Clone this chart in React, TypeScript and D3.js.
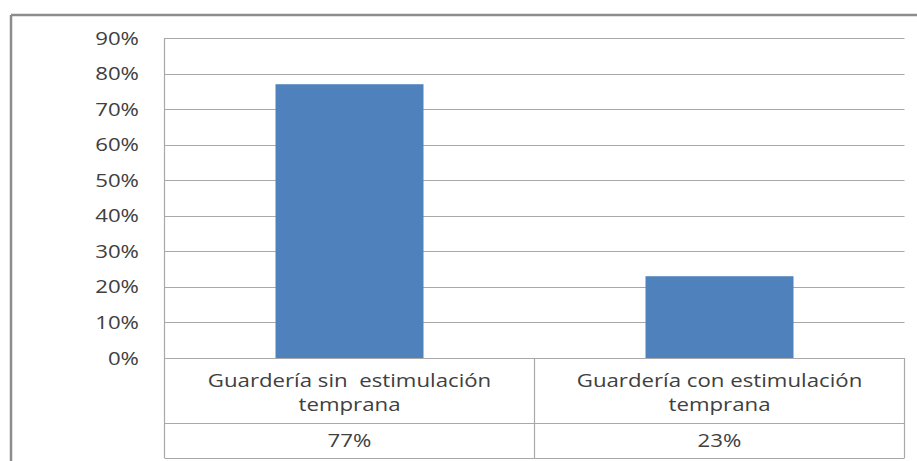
import React from "react";
import * as d3 from "d3";

const categories = ["Guardería sin  estimulación|temprana", "Guardería con estimulación|temprana"];
const values = [0.77, 0.23];
const valueLabels = ["77%", "23%"];
const yTicks = [0, 0.1, 0.2, 0.3, 0.4, 0.5, 0.6, 0.7, 0.8, 0.9];

const W = 917;
const H = 461;
const plotLeft = 164.5;
const plotRight = 904.5;
const plotTop = 38;
const plotBottom = 358;
const row1Bottom = 423;
const row2Bottom = 458;
const FONT = "'Open Sans', 'Liberation Sans', sans-serif";
const TEXT = "#404040";
const GRID = "#a8a8a8";
const SX = 1.235;

export default function App() {
  const x = d3.scaleBand<string>().domain(categories).range([plotLeft, plotRight]).padding(0);
  const y = d3.scaleLinear().domain([0, 0.9]).range([plotBottom, plotTop]);
  const barW = x.bandwidth() * 0.4;
  const fmt = d3.format(".0%");

  const sText = (tx: number, ty: number, anchor: string, content: string, key?: any) => (
    <text
      key={key}
      transform={`translate(${tx},${ty}) scale(${SX},1)`}
      textAnchor={anchor}
      fontFamily={FONT}
      fontSize={18}
      fill={TEXT}
      style={{ whiteSpace: "pre" }}
    >
      {content}
    </text>
  );

  return (
    <svg
      width={W}
      height={H}
      style={{ position: "absolute", left: 0, top: 0, background: "#fff" }}
    >
      {/* outer chart border */}
      <line x1={11} x2={W} y1={15} y2={15} stroke="#8c8c8c" strokeWidth={2.5} />
      <line x1={11} x2={11} y1={15} y2={H} stroke="#8c8c8c" strokeWidth={2.5} />

      {/* gridlines */}
      {yTicks.map((t) => (
        <line
          key={"g" + t}
          x1={plotLeft}
          x2={plotRight}
          y1={Math.round(y(t)) + 0.5}
          y2={Math.round(y(t)) + 0.5}
          stroke={GRID}
          strokeWidth={1.2}
        />
      ))}

      {/* bars */}
      {categories.map((c, i) => (
        <rect
          key={"b" + i}
          x={(x(c) as number) + (x.bandwidth() - barW) / 2}
          y={y(values[i])}
          width={barW}
          height={plotBottom - y(values[i])}
          fill="#4f81bd"
        />
      ))}

      {/* axis line */}
      <line x1={plotLeft} x2={plotLeft} y1={plotTop} y2={row2Bottom} stroke={GRID} strokeWidth={1.2} />

      {/* table */}
      <line x1={plotLeft} x2={plotRight} y1={row1Bottom + 0.5} y2={row1Bottom + 0.5} stroke={GRID} strokeWidth={1.2} />
      <line x1={plotLeft} x2={plotRight} y1={row2Bottom + 0.5} y2={row2Bottom + 0.5} stroke={GRID} strokeWidth={1.2} />
      {categories.map((c, i) => (
        <line
          key={"v" + i}
          x1={(x(c) as number) + x.bandwidth()}
          x2={(x(c) as number) + x.bandwidth()}
          y1={plotBottom}
          y2={row2Bottom}
          stroke={GRID}
          strokeWidth={1.2}
        />
      ))}

      {/* y tick labels */}
      {yTicks.map((t) => sText(139, y(t) + 6.5, "end", fmt(t), "t" + t))}

      {/* category labels */}
      {categories.map((c, i) => {
        const cx = (x(c) as number) + x.bandwidth() / 2;
        const lines = c.split("|");
        return (
          <g key={"c" + i}>
            {lines.map((l, j) => sText(cx, 387 + j * 24, "middle", l, j))}
          </g>
        );
      })}

      {/* value row */}
      {categories.map((c, i) => sText((x(c) as number) + x.bandwidth() / 2, 447, "middle", valueLabels[i], "v" + i))}
    </svg>
  );
}
